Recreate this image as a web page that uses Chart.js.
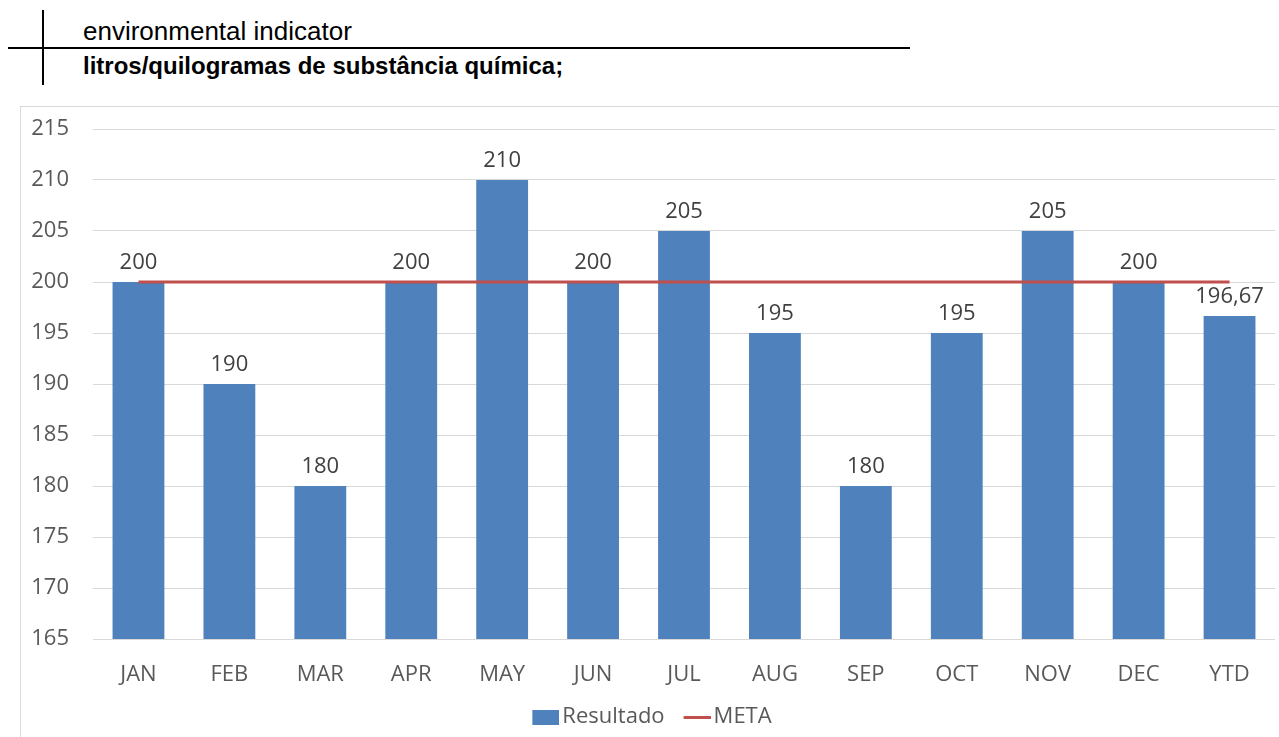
<!DOCTYPE html>
<html>
<head>
<meta charset="utf-8">
<script src="https://cdn.jsdelivr.net/npm/chart.js@4.4.0/dist/chart.umd.min.js"></script>
<style>
  html, body { margin: 0; padding: 0; background: #fff; overflow: hidden; width: 1279px; height: 737px; }
  #vline { position: absolute; left: 42px; top: 10px; width: 2px; height: 75px; background: #000; }
  #hline { position: absolute; left: 8px; top: 47px; width: 902px; height: 2px; background: #000; }
  #t1 { position: absolute; left: 83px; top: 15px; font-family: "Liberation Sans", Arial, sans-serif; font-size: 26px; line-height: 32px; color: #000; white-space: nowrap; }
  #t2 { position: absolute; left: 83px; top: 52px; font-family: "Liberation Sans", Arial, sans-serif; font-size: 24px; font-weight: bold; line-height: 28px; color: #000; white-space: nowrap; }
  #box { position: absolute; left: 20px; top: 106px; width: 1270px; height: 640px; border: 1px solid #d9d9d9; }
  #wrap { position: absolute; left: 0; top: 0; width: 1258px; height: 631px; }
</style>
</head>
<body>
<div id="vline"></div>
<div id="hline"></div>
<div id="t1">environmental indicator</div>
<div id="t2">litros/quilogramas de substância química;</div>
<div id="box"><div id="wrap"><canvas id="c"></canvas></div></div>
<script>
const categories = ["JAN", "FEB", "MAR", "APR", "MAY", "JUN", "JUL", "AUG", "SEP", "OCT", "NOV", "DEC", "YTD"];
const resultado = [200, 190, 180, 200, 210, 200, 205, 195, 180, 195, 205, 200, 196.67];
const meta = [200, 200, 200, 200, 200, 200, 200, 200, 200, 200, 200, 200, 200];
const yTicks = [165, 170, 175, 180, 185, 190, 195, 200, 205, 210, 215];

const FONT = '"Open Sans", "Noto Sans", sans-serif';
const BLUE = '#4F81BD';
const RED = '#C0504D';
const fmt = v => (Math.round(v * 100) / 100).toString().replace('.', ',');

function legendSwatch(color, h) {
  const cv = document.createElement('canvas');
  cv.width = 43; cv.height = h;
  const g = cv.getContext('2d');
  g.fillStyle = color;
  g.fillRect(16, 0, 27, h);
  return cv;
}
const swatchBar = legendSwatch(BLUE, 15);
const swatchLine = legendSwatch(RED, 3);

const labelPlugin = {
  id: 'barLabels',
  afterDatasetsDraw(chart) {
    const ctx = chart.ctx;
    const meta0 = chart.getDatasetMeta(0);
    ctx.save();
    ctx.font = '22px ' + FONT;
    ctx.fillStyle = '#404040';
    ctx.textAlign = 'center';
    ctx.textBaseline = 'bottom';
    meta0.data.forEach((bar, i) => {
      ctx.fillText(fmt(resultado[i]), bar.x, bar.y - 8);
    });
    ctx.restore();
  }
};

new Chart(document.getElementById('c'), {
  type: 'bar',
  data: {
    labels: categories,
    datasets: [
      {
        type: 'bar',
        label: 'Resultado',
        data: resultado,
        backgroundColor: BLUE,
        borderWidth: 0,
        categoryPercentage: 1,
        barPercentage: 0.57,
        order: 2
      },
      {
        type: 'line',
        label: 'META',
        data: meta,
        borderColor: RED,
        backgroundColor: RED,
        borderWidth: 3,
        pointRadius: 0,
        pointHoverRadius: 0,
        fill: false,
        order: 1
      }
    ]
  },
  options: {
    responsive: true,
    maintainAspectRatio: false,
    animation: false,
    events: [],
    layout: { padding: { left: 0, right: 4, top: 22, bottom: 0 } },
    scales: {
      x: {
        grid: { display: false },
        border: { display: false },
        ticks: { color: '#595959', font: { family: FONT, size: 22 }, padding: 15 },
        afterFit(s) { s.height = 56; s.paddingTop = 0; s.paddingBottom = 0; }
      },
      y: {
        min: 165,
        max: 215,
        afterBuildTicks(s) { s.ticks = yTicks.map(v => ({ value: v })); },
        grid: { color: '#d9d9d9', lineWidth: 1, drawTicks: false },
        border: { display: false },
        ticks: { color: '#595959', font: { family: FONT, size: 22 }, padding: 24 },
        afterFit(s) { s.width = 72; s.paddingTop = 0; s.paddingBottom = 0; }
      }
    },
    plugins: {
      tooltip: { enabled: false },
      legend: {
        position: 'bottom',
        labels: {
          color: '#595959',
          font: { family: FONT, size: 22 },
          usePointStyle: true,
          pointStyleWidth: 27,
          boxHeight: 15,
          padding: 11,
          sort: (a, b) => a.datasetIndex - b.datasetIndex,
          generateLabels(chart) {
            const items = Chart.defaults.plugins.legend.labels.generateLabels(chart);
            items.forEach(it => {
              it.pointStyle = it.datasetIndex === 0 ? swatchBar : swatchLine;
              it.lineWidth = 0;
            });
            return items;
          }
        }
      }
    }
  },
  plugins: [labelPlugin]
});
</script>
</body>
</html>
